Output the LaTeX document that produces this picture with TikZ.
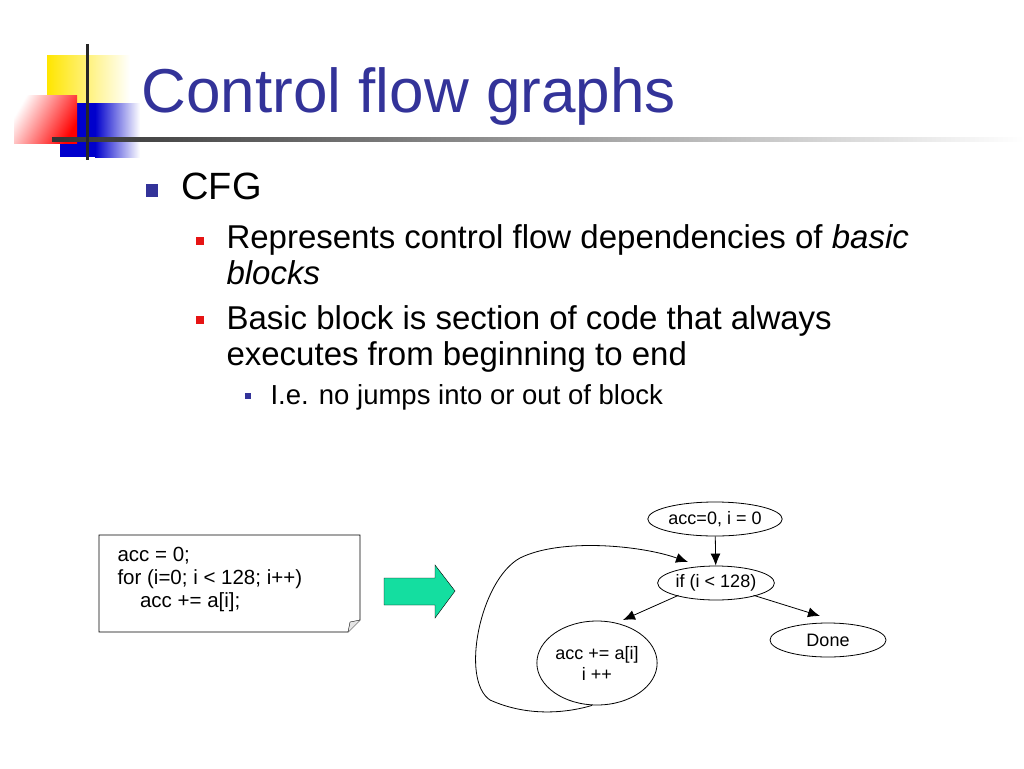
\documentclass[tikz,border=0pt]{standalone}
\usepackage{fontspec}
\setmainfont{Liberation Sans}
\usetikzlibrary{shapes.geometric,arrows.meta}
\definecolor{titleblue}{RGB}{51,51,153}
\definecolor{bulred}{RGB}{230,20,20}
\definecolor{arrowgreen}{RGB}{20,222,160}
\tikzset{
  blk/.style={draw,thick,ellipse,inner sep=1pt,font=\fontsize{18}{21}\selectfont},
  flow/.style={thick,-{Latex[length=12pt,width=10pt]}},
  lvlone/.style={anchor=base west,font=\fontsize{38}{44}\selectfont},
  lvltwo/.style={anchor=base west,font=\fontsize{33}{38}\selectfont,align=left},
  lvlthree/.style={anchor=base west,font=\fontsize{27.5}{32}\selectfont}
}
\begin{document}
\begin{tikzpicture}[x=1pt,y=-1pt]
  \useasboundingbox (0,0) rectangle (1024,768);
  % logo
  \shade[left color=yellow!80!orange,right color=white] (47,56) rectangle (130,103);
  \fill[blue!80!black] (60,103) rectangle (95,157);
  \shade[left color=blue!80!black,right color=white] (95,103) rectangle (140,157);
  \shade[left color=white,right color=red,shading angle=60] (14,95) rectangle (77,143);
  \shade[left color=black!80,right color=white] (52,137) rectangle (1024,141);
  \draw[line width=3pt,black!85] (87,44) -- (87,160);
  \node[anchor=base west,text=titleblue,font=\fontsize{62}{70}\selectfont] (title) at (138,112) {Control flow graphs};
  % bullets
  \fill[titleblue] (146,184) rectangle (158,197);
  \node[lvlone] (cfg) at (178,199) {CFG};
  \fill[bulred] (196,237) rectangle (204,245);
  \node[lvltwo] (rep) at (223,248) {Represents control flow dependencies of \textit{basic}};
  \node[lvltwo] (rep2) at (223,284) {\textit{blocks}};
  \fill[bulred] (196,316) rectangle (204,324);
  \node[lvltwo] (bb) at (223,329) {Basic block is section of code that always};
  \node[lvltwo] (bb2) at (223,365) {executes from beginning to end};
  \fill[titleblue] (245,393) rectangle (251,399);
  \node[lvlthree] (ie) at (267,404) {I.e. no jumps into or out of block};
  % code box
  \draw[thick] (99,535) -- (360,535) -- (360,620) -- (348,632) -- (99,632) -- cycle;
  \draw[thin,fill=black!10] (360,620) -- (350,622) -- (348,632);
  \node[anchor=north west,align=left,font=\fontsize{20.5}{23}\selectfont] (code) at (114,544)
    {acc = 0;\\for (i=0; i {\char`<} 128; i++)\\\hspace{1.1em}acc += a[i];};
  % green arrow
  \draw[fill=arrowgreen,thin] (384,578) -- (435,578) -- (435,565) -- (455,591) -- (435,618) -- (435,605) -- (384,605) -- cycle;
  % graph
  \node[blk,minimum width=118pt,minimum height=34pt] (init) at (715,519) {acc=0, i = 0};
  \node[blk,minimum width=108pt,minimum height=34pt] (cond) at (716,583) {if (i {\char`<} 128)};
  \node[blk,minimum width=116pt,minimum height=34pt] (done) at (828,640) {Done};
  \node[blk,minimum width=118pt,minimum height=84pt,align=center] (body) at (597,663) {acc += a[i]\\i ++};
  \coordinate (loopend) at (688,562);
  \draw[flow] (init) -- (cond);
  \draw[flow] (cond.south west) ++(4,0) coordinate (c1) (c1) -- (623,620) coordinate (bodyin);
  \draw[flow] (cond.south east) ++(-4,0) coordinate (c2) (c2) -- (820,616) coordinate (donein);
  \draw[flow] (body.south) ++(-5,0) .. controls (570,712) and (530,718) .. (490,700)
    .. controls (460,680) and (480,580) .. (520,558)
    .. controls (560,538) and (640,545) .. (loopend);
\end{tikzpicture}
\end{document}
